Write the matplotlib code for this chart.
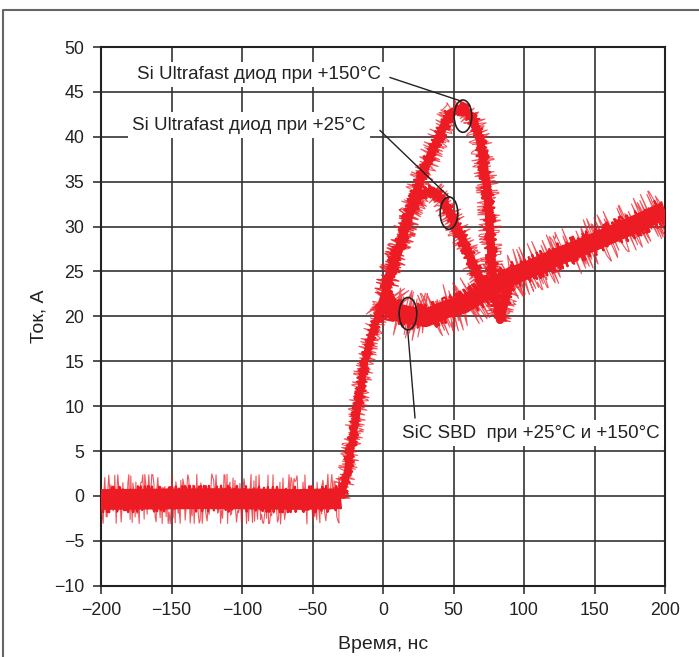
import matplotlib
matplotlib.use("Agg")
import matplotlib.pyplot as plt
from matplotlib.patches import Ellipse
from matplotlib.lines import Line2D

plt.rcParams['font.family'] = ['Liberation Sans', 'DejaVu Sans']

RED = '#ed1c24'
GRID = '#333333'

# общий участок: нулевой ток и фронт нарастания
t_base = [-200, -120, -60, -30]
i_base = [-0.4, -0.3, -0.4, -0.3]
t_rise = [-30, -27, -25, -23, -17.7, -12.8, -8, -3.5, 0, 2]
i_rise = [-0.2, 1.5, 3, 5, 10, 15, 18, 20, 22, 22.5]

# SiC SBD при +25°C и +150°C
t_sic = [1, 8, 17, 30, 45, 57, 75, 92, 100, 125, 150, 175, 200]
i_sic = [22, 20.5, 20.2, 19.8, 20.8, 21.3, 23, 24.6, 25, 26.7, 28.3, 30, 31.8]

# Si Ultrafast при +25°C
t_si25 = [1, 5, 12, 19, 26, 35, 42, 47.5, 56.7, 66.7, 72, 76]
i_si25 = [22, 24.8, 27.7, 31.5, 33.5, 34, 33, 31.5, 28.5, 24.8, 23.5, 23]

# Si Ultrafast при +150°C
t_si150 = [1, 5, 12, 19, 26, 33, 42.5, 47.5, 56.7, 63.8, 68.8, 73.8, 76, 78, 83, 88, 92]
i_si150 = [22, 25, 28, 31.5, 35, 37.7, 41, 42.6, 43.3, 42, 39.6, 34.4, 29.3, 23.7, 19.6, 22.6, 24.4]

fig = plt.figure(figsize=(6.99, 6.57), dpi=100)
ax = fig.add_axes([101 / 699, 1 - 585.7 / 657, 564 / 699, 538.7 / 657])


def trace(t, i, core, amp):
    # сплошная полоса + "шум" осциллографа
    ax.plot(t, i, color=RED, lw=core, solid_capstyle='butt', zorder=3)
    ln, = ax.plot(t, i, color=RED, lw=1.6, zorder=3)
    ln.set_sketch_params(scale=amp, length=1.2, randomness=8)
    ln2, = ax.plot(t, i, color=RED, lw=0.8, alpha=0.75, zorder=3)
    ln2.set_sketch_params(scale=amp * 1.9, length=0.8, randomness=12)


trace(t_base, i_base, 15, 13)
trace(t_rise, i_rise, 5, 5)
trace(t_sic, i_sic, 13, 13)
trace(t_si25, i_si25, 6, 6)
trace(t_si150, i_si150, 6, 6)

ax.set_xlim(-200, 200)
ax.set_ylim(-10, 50)
ax.set_xticks(range(-200, 201, 50))
ax.set_yticks(range(-10, 51, 5))
ax.grid(True, color=GRID, lw=1.2, zorder=1)
ax.set_axisbelow(True)
for s in ax.spines.values():
    s.set_color('#222222')
    s.set_linewidth(1.5)
ax.tick_params(direction='out', length=6, width=1.2, color=GRID,
               labelsize=12.8, labelcolor='#222222', pad=6)

ax.set_xlabel('Время, нс', fontsize=14, color='#222222', labelpad=12)
ax.set_ylabel('Ток, А', fontsize=14, color='#222222', labelpad=5)

# выноски
box = dict(facecolor='white', edgecolor='none', pad=3)
ax.text(-174.5, 46.9, 'Si Ultrafast диод при +150°C', fontsize=13.5,
        va='center', ha='left', color='#222222', bbox=box, zorder=4)
ax.text(-178, 41.3, 'Si Ultrafast диод при +25°C', fontsize=13.5,
        va='center', ha='left', color='#222222', bbox=box, zorder=4)
ax.text(13.5, 7.0, 'SiC SBD  при +25°C и +150°C', fontsize=13.5,
        va='center', ha='left', color='#222222', bbox=box, zorder=4)

for cx, cy in [(56.7, 42.3), (46.8, 31.5), (17.7, 20.3)]:
    ax.add_patch(Ellipse((cx, cy), 12.5, 3.6, fill=False, ec='#222222',
                         lw=1.2, zorder=5))
ax.plot([5, 54.9], [46.6, 44.0], color='#222222', lw=1, zorder=5)
ax.plot([-2.1, 46.8], [40.7, 33.3], color='#222222', lw=1, zorder=5)
ax.plot([17.5, 22.7], [18.5, 8.7], color='#222222', lw=1, zorder=5)

# рамка рисунка
fig.add_artist(Line2D([3 / 699, 3 / 699, 1], [0, 1 - 10 / 657, 1 - 10 / 657],
                      color='#666666', lw=1.5))

fig.savefig('out.png', dpi=100)
